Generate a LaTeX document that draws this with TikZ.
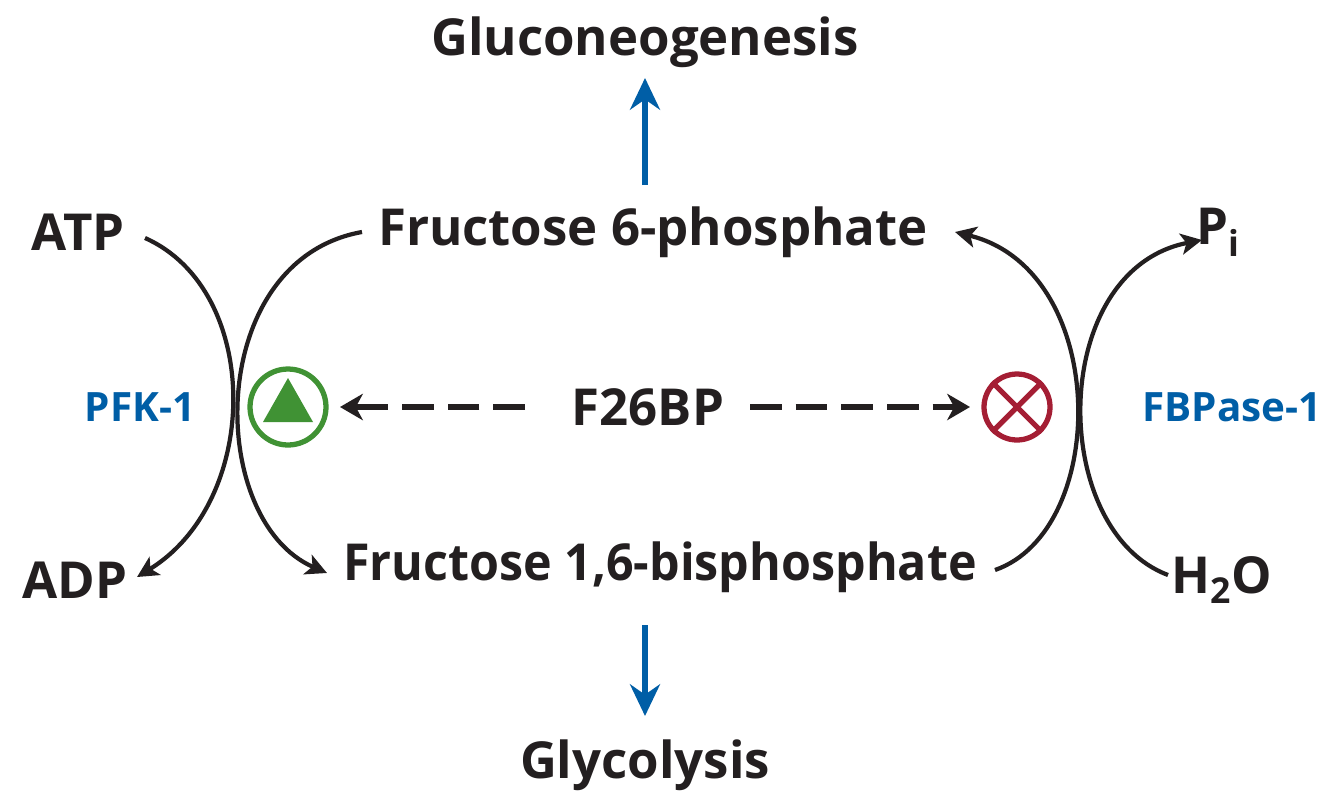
\documentclass[tikz,border=0pt]{standalone}
\usepackage{fontspec}
\setmainfont{Open Sans}
\usetikzlibrary{arrows.meta}
\definecolor{ink}{RGB}{35,31,32}
\definecolor{pblue}{RGB}{0,94,166}
\definecolor{pgreen}{RGB}{64,146,52}
\definecolor{pred}{RGB}{164,30,52}
\tikzset{
  met/.style={font=\fontsize{29}{34}\selectfont\bfseries, text=ink, inner sep=0pt},
  enz/.style={font=\fontsize{23}{28}\selectfont\bfseries, text=pblue, inner sep=0pt},
  rxn/.style={line width=2.4pt, draw=ink, -{Stealth[length=12pt,width=12pt,inset=3pt]}},
  effect/.style={line width=3.2pt, draw=ink, dash pattern=on 18pt off 8pt, -{Stealth[length=13pt,width=15pt,inset=4pt]}},
  flux/.style={line width=3.5pt, draw=pblue, -{Stealth[length=18pt,width=17pt]}},
}
\begin{document}
\begin{tikzpicture}[x=0.02cm,y=-0.02cm]
\useasboundingbox (0,0) rectangle (1341,805);
% metabolites
\node[met] (gng) at (645,42) {Gluconeogenesis};
\node[met] (f6p) at (653,232) {Fructose 6-phosphate};
\node[met, xscale=0.95] (fbp) at (660,567) {Fructose 1,6-bisphosphate};
\node[met] (gly) at (645,765) {Glycolysis};
\node[met] (atp) at (78,232) {ATP};
\node[met] (adp) at (75,580) {ADP};
\node[met] (pi) at (1218,232) {P\textsubscript{i}};
\node[met] (hho) at (1222,580) {H\textsubscript{2}O};
\node[met] (f26) at (648,407) {F26BP};
% enzymes
\node[enz] (pfk) at (140,407) {PFK-1};
\node[enz, anchor=east] (fbpase) at (1322,407) {FBPase-1};
% regulators
\node[circle, draw=pgreen, line width=3pt, minimum size=1.52cm, inner sep=0pt] (act) at (288,407) {};
\fill[pgreen] (288,378) -- (313,422) -- (263,422) -- cycle;
\node[circle, draw=pred, line width=3pt, minimum size=1.32cm, inner sep=0pt] (inh) at (1017,407) {};
\draw[pred, line width=3pt] (inh.north west) -- (inh.south east) (inh.north east) -- (inh.south west);
% connector ends
\coordinate (atpEnd) at (145,238);
\coordinate (adpEnd) at (137,577);
\coordinate (f6pL) at (362,232);
\coordinate (fbpL) at (327,573);
\coordinate (fbpR) at (995,570);
\coordinate (f6pR) at (955,232);
\coordinate (hhoEnd) at (1168,575);
\coordinate (piEnd) at (1202,240);
\coordinate (f26L) at (525,407);
\coordinate (actR) at (340,407);
\coordinate (f26R) at (750,407);
\coordinate (inhL) at (970,407);
\coordinate (upS) at (645,185);
\coordinate (upE) at (645,78);
\coordinate (dnS) at (645,625);
\coordinate (dnE) at (645,716);
% PFK-1 reaction
\draw[rxn] (atpEnd) .. controls (262,290) and (262,500) .. (adpEnd);
\draw[rxn] (f6pL) .. controls (205,260) and (205,520) .. (fbpL);
% FBPase-1 reaction
\draw[rxn] (fbpR) .. controls (1110,530) and (1110,270) .. (f6pR);
\draw[rxn] (hhoEnd) .. controls (1048,530) and (1048,270) .. (piEnd);
% F26BP effects
\draw[effect] (f26L) -- (actR);
\draw[effect] (f26R) -- (inhL);
% pathway flux
\draw[flux] (upS) -- (upE);
\draw[flux] (dnS) -- (dnE);
\end{tikzpicture}
\end{document}
